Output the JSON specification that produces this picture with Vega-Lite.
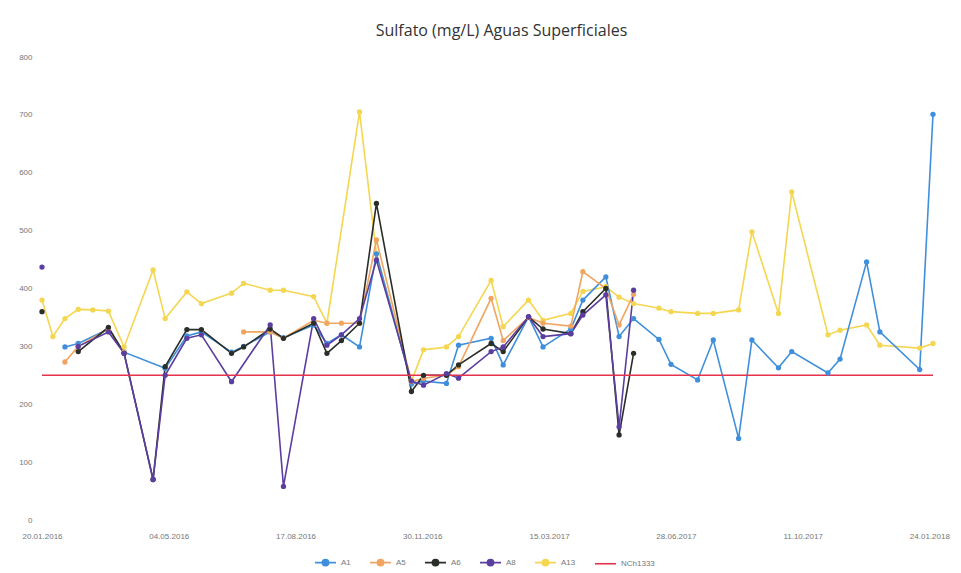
{
  "$schema": "https://vega.github.io/schema/vega-lite/v6.json",
  "width": 891,
  "height": 463,
  "autosize": {"type": "none"},
  "padding": {"left": 42, "top": 57, "right": 28, "bottom": 53},
  "background": "white",
  "config": {"view": {"stroke": null}, "font": "Liberation Sans"},
  "title": {"text": "Sulfato (mg/L) Aguas Superficiales", "font": "Open Sans", "fontSize": 16, "fontWeight": "normal", "color": "#333333", "offset": 14, "dx": 14},
  "data": {"values": [
    {"fecha": "2016-01-20", "serie": "A13", "valor": 380},
    {"fecha": "2016-01-29", "serie": "A13", "valor": 317},
    {"fecha": "2016-02-08", "serie": "A13", "valor": 348},
    {"fecha": "2016-02-19", "serie": "A13", "valor": 364},
    {"fecha": "2016-03-02", "serie": "A13", "valor": 363},
    {"fecha": "2016-03-15", "serie": "A13", "valor": 361},
    {"fecha": "2016-03-28", "serie": "A13", "valor": 299},
    {"fecha": "2016-04-21", "serie": "A13", "valor": 432},
    {"fecha": "2016-05-01", "serie": "A13", "valor": 348},
    {"fecha": "2016-05-19", "serie": "A13", "valor": 394},
    {"fecha": "2016-05-31", "serie": "A13", "valor": 374},
    {"fecha": "2016-06-25", "serie": "A13", "valor": 392},
    {"fecha": "2016-07-05", "serie": "A13", "valor": 409},
    {"fecha": "2016-07-27", "serie": "A13", "valor": 397},
    {"fecha": "2016-08-07", "serie": "A13", "valor": 397},
    {"fecha": "2016-09-01", "serie": "A13", "valor": 386},
    {"fecha": "2016-09-12", "serie": "A13", "valor": 340},
    {"fecha": "2016-10-09", "serie": "A13", "valor": 705},
    {"fecha": "2016-10-23", "serie": "A13", "valor": 460},
    {"fecha": "2016-11-21", "serie": "A13", "valor": 240},
    {"fecha": "2016-12-01", "serie": "A13", "valor": 294},
    {"fecha": "2016-12-20", "serie": "A13", "valor": 299},
    {"fecha": "2016-12-30", "serie": "A13", "valor": 317},
    {"fecha": "2017-01-26", "serie": "A13", "valor": 414},
    {"fecha": "2017-02-05", "serie": "A13", "valor": 334},
    {"fecha": "2017-02-26", "serie": "A13", "valor": 380},
    {"fecha": "2017-03-10", "serie": "A13", "valor": 345},
    {"fecha": "2017-04-02", "serie": "A13", "valor": 357},
    {"fecha": "2017-04-12", "serie": "A13", "valor": 395},
    {"fecha": "2017-05-01", "serie": "A13", "valor": 403},
    {"fecha": "2017-05-12", "serie": "A13", "valor": 385},
    {"fecha": "2017-05-24", "serie": "A13", "valor": 374},
    {"fecha": "2017-06-14", "serie": "A13", "valor": 366},
    {"fecha": "2017-06-24", "serie": "A13", "valor": 360},
    {"fecha": "2017-07-16", "serie": "A13", "valor": 357},
    {"fecha": "2017-07-29", "serie": "A13", "valor": 357},
    {"fecha": "2017-08-19", "serie": "A13", "valor": 363},
    {"fecha": "2017-08-30", "serie": "A13", "valor": 498},
    {"fecha": "2017-09-21", "serie": "A13", "valor": 357},
    {"fecha": "2017-10-02", "serie": "A13", "valor": 567},
    {"fecha": "2017-11-01", "serie": "A13", "valor": 320},
    {"fecha": "2017-11-11", "serie": "A13", "valor": 328},
    {"fecha": "2017-12-03", "serie": "A13", "valor": 337},
    {"fecha": "2017-12-14", "serie": "A13", "valor": 302},
    {"fecha": "2018-01-16", "serie": "A13", "valor": 297},
    {"fecha": "2018-01-27", "serie": "A13", "valor": 305},

    {"fecha": "2016-02-08", "serie": "A1", "valor": 299},
    {"fecha": "2016-02-19", "serie": "A1", "valor": 305},
    {"fecha": "2016-03-15", "serie": "A1", "valor": 330},
    {"fecha": "2016-03-28", "serie": "A1", "valor": 290},
    {"fecha": "2016-05-01", "serie": "A1", "valor": 262},
    {"fecha": "2016-05-19", "serie": "A1", "valor": 318},
    {"fecha": "2016-05-31", "serie": "A1", "valor": 325},
    {"fecha": "2016-06-25", "serie": "A1", "valor": 290},
    {"fecha": "2016-07-05", "serie": "A1", "valor": 300},
    {"fecha": "2016-07-27", "serie": "A1", "valor": 325},
    {"fecha": "2016-08-07", "serie": "A1", "valor": 315},
    {"fecha": "2016-09-01", "serie": "A1", "valor": 337},
    {"fecha": "2016-09-12", "serie": "A1", "valor": 305},
    {"fecha": "2016-09-24", "serie": "A1", "valor": 320},
    {"fecha": "2016-10-09", "serie": "A1", "valor": 299},
    {"fecha": "2016-10-23", "serie": "A1", "valor": 460},
    {"fecha": "2016-11-21", "serie": "A1", "valor": 235},
    {"fecha": "2016-12-01", "serie": "A1", "valor": 240},
    {"fecha": "2016-12-20", "serie": "A1", "valor": 236},
    {"fecha": "2016-12-30", "serie": "A1", "valor": 302},
    {"fecha": "2017-01-26", "serie": "A1", "valor": 314},
    {"fecha": "2017-02-05", "serie": "A1", "valor": 268},
    {"fecha": "2017-02-26", "serie": "A1", "valor": 351},
    {"fecha": "2017-03-10", "serie": "A1", "valor": 299},
    {"fecha": "2017-04-02", "serie": "A1", "valor": 330},
    {"fecha": "2017-04-12", "serie": "A1", "valor": 380},
    {"fecha": "2017-05-01", "serie": "A1", "valor": 420},
    {"fecha": "2017-05-12", "serie": "A1", "valor": 317},
    {"fecha": "2017-05-24", "serie": "A1", "valor": 348},
    {"fecha": "2017-06-14", "serie": "A1", "valor": 312},
    {"fecha": "2017-06-24", "serie": "A1", "valor": 269},
    {"fecha": "2017-07-16", "serie": "A1", "valor": 242},
    {"fecha": "2017-07-29", "serie": "A1", "valor": 311},
    {"fecha": "2017-08-19", "serie": "A1", "valor": 141},
    {"fecha": "2017-08-30", "serie": "A1", "valor": 311},
    {"fecha": "2017-09-21", "serie": "A1", "valor": 263},
    {"fecha": "2017-10-02", "serie": "A1", "valor": 291},
    {"fecha": "2017-11-01", "serie": "A1", "valor": 254},
    {"fecha": "2017-11-11", "serie": "A1", "valor": 278},
    {"fecha": "2017-12-03", "serie": "A1", "valor": 446},
    {"fecha": "2017-12-14", "serie": "A1", "valor": 325},
    {"fecha": "2018-01-16", "serie": "A1", "valor": 260},
    {"fecha": "2018-01-27", "serie": "A1", "valor": 701},

    {"fecha": "2016-02-08", "serie": "A5", "valor": 273},
    {"fecha": "2016-02-19", "serie": "A5", "valor": 300},
    {"fecha": "2016-03-15", "serie": "A5", "valor": 330},
    {"fecha": "2016-03-28", "serie": "A5", "valor": 290},
    {"fecha": "2016-04-21", "serie": "A5", "valor": null},
    {"fecha": "2016-07-05", "serie": "A5", "valor": 325},
    {"fecha": "2016-07-27", "serie": "A5", "valor": 325},
    {"fecha": "2016-08-07", "serie": "A5", "valor": 314},
    {"fecha": "2016-09-01", "serie": "A5", "valor": 345},
    {"fecha": "2016-09-12", "serie": "A5", "valor": 340},
    {"fecha": "2016-09-24", "serie": "A5", "valor": 340},
    {"fecha": "2016-10-09", "serie": "A5", "valor": 340},
    {"fecha": "2016-10-23", "serie": "A5", "valor": 484},
    {"fecha": "2016-11-21", "serie": "A5", "valor": 239},
    {"fecha": "2016-12-01", "serie": "A5", "valor": 245},
    {"fecha": "2016-12-20", "serie": "A5", "valor": 250},
    {"fecha": "2016-12-30", "serie": "A5", "valor": 265},
    {"fecha": "2017-01-26", "serie": "A5", "valor": 383},
    {"fecha": "2017-02-05", "serie": "A5", "valor": 310},
    {"fecha": "2017-02-26", "serie": "A5", "valor": 350},
    {"fecha": "2017-03-10", "serie": "A5", "valor": 340},
    {"fecha": "2017-04-02", "serie": "A5", "valor": 335},
    {"fecha": "2017-04-12", "serie": "A5", "valor": 429},
    {"fecha": "2017-05-01", "serie": "A5", "valor": 400},
    {"fecha": "2017-05-12", "serie": "A5", "valor": 337},
    {"fecha": "2017-05-24", "serie": "A5", "valor": 390},

    {"fecha": "2016-01-20", "serie": "A6", "valor": 360},
    {"fecha": "2016-01-29", "serie": "A6", "valor": null},
    {"fecha": "2016-02-19", "serie": "A6", "valor": 291},
    {"fecha": "2016-03-15", "serie": "A6", "valor": 333},
    {"fecha": "2016-03-28", "serie": "A6", "valor": 288},
    {"fecha": "2016-04-21", "serie": "A6", "valor": 70},
    {"fecha": "2016-05-01", "serie": "A6", "valor": 265},
    {"fecha": "2016-05-19", "serie": "A6", "valor": 329},
    {"fecha": "2016-05-31", "serie": "A6", "valor": 329},
    {"fecha": "2016-06-25", "serie": "A6", "valor": 288},
    {"fecha": "2016-07-05", "serie": "A6", "valor": 299},
    {"fecha": "2016-07-27", "serie": "A6", "valor": 330},
    {"fecha": "2016-08-07", "serie": "A6", "valor": 314},
    {"fecha": "2016-09-01", "serie": "A6", "valor": 340},
    {"fecha": "2016-09-12", "serie": "A6", "valor": 288},
    {"fecha": "2016-09-24", "serie": "A6", "valor": 310},
    {"fecha": "2016-10-09", "serie": "A6", "valor": 340},
    {"fecha": "2016-10-23", "serie": "A6", "valor": 547},
    {"fecha": "2016-11-21", "serie": "A6", "valor": 222},
    {"fecha": "2016-12-01", "serie": "A6", "valor": 250},
    {"fecha": "2016-12-20", "serie": "A6", "valor": 250},
    {"fecha": "2016-12-30", "serie": "A6", "valor": 268},
    {"fecha": "2017-01-26", "serie": "A6", "valor": 305},
    {"fecha": "2017-02-05", "serie": "A6", "valor": 291},
    {"fecha": "2017-02-26", "serie": "A6", "valor": 351},
    {"fecha": "2017-03-10", "serie": "A6", "valor": 330},
    {"fecha": "2017-04-02", "serie": "A6", "valor": 322},
    {"fecha": "2017-04-12", "serie": "A6", "valor": 360},
    {"fecha": "2017-05-01", "serie": "A6", "valor": 400},
    {"fecha": "2017-05-12", "serie": "A6", "valor": 147},
    {"fecha": "2017-05-24", "serie": "A6", "valor": 288},

    {"fecha": "2016-01-20", "serie": "A8", "valor": 437},
    {"fecha": "2016-01-29", "serie": "A8", "valor": null},
    {"fecha": "2016-02-19", "serie": "A8", "valor": 300},
    {"fecha": "2016-03-15", "serie": "A8", "valor": 325},
    {"fecha": "2016-03-28", "serie": "A8", "valor": 288},
    {"fecha": "2016-04-21", "serie": "A8", "valor": 70},
    {"fecha": "2016-05-01", "serie": "A8", "valor": 250},
    {"fecha": "2016-05-19", "serie": "A8", "valor": 314},
    {"fecha": "2016-05-31", "serie": "A8", "valor": 320},
    {"fecha": "2016-06-25", "serie": "A8", "valor": 239},
    {"fecha": "2016-07-27", "serie": "A8", "valor": 337},
    {"fecha": "2016-08-07", "serie": "A8", "valor": 58},
    {"fecha": "2016-09-01", "serie": "A8", "valor": 348},
    {"fecha": "2016-09-12", "serie": "A8", "valor": 302},
    {"fecha": "2016-09-24", "serie": "A8", "valor": 320},
    {"fecha": "2016-10-09", "serie": "A8", "valor": 348},
    {"fecha": "2016-10-23", "serie": "A8", "valor": 449},
    {"fecha": "2016-11-21", "serie": "A8", "valor": 240},
    {"fecha": "2016-12-01", "serie": "A8", "valor": 233},
    {"fecha": "2016-12-20", "serie": "A8", "valor": 253},
    {"fecha": "2016-12-30", "serie": "A8", "valor": 245},
    {"fecha": "2017-01-26", "serie": "A8", "valor": 291},
    {"fecha": "2017-02-05", "serie": "A8", "valor": 299},
    {"fecha": "2017-02-26", "serie": "A8", "valor": 351},
    {"fecha": "2017-03-10", "serie": "A8", "valor": 317},
    {"fecha": "2017-04-02", "serie": "A8", "valor": 322},
    {"fecha": "2017-04-12", "serie": "A8", "valor": 354},
    {"fecha": "2017-05-01", "serie": "A8", "valor": 389},
    {"fecha": "2017-05-12", "serie": "A8", "valor": 161},
    {"fecha": "2017-05-24", "serie": "A8", "valor": 397},

    {"fecha": "2016-01-20", "serie": "NCh1333", "valor": 250},
    {"fecha": "2018-01-27", "serie": "NCh1333", "valor": 250}
  ]},
  "encoding": {
    "x": {
      "field": "fecha", "type": "temporal",
      "scale": {"type": "utc", "domain": [{"year": 2016, "month": 1, "date": 20, "utc": true}, {"year": 2018, "month": 1, "date": 27, "utc": true}], "nice": false},
      "axis": {
        "title": null, "domain": false, "ticks": false, "grid": false,
        "labelExpr": "utcFormat(datum.value, '%d.%m.%Y')",
        "values": [
          {"year": 2016, "month": 1, "date": 20, "utc": true},
          {"year": 2016, "month": 5, "date": 4, "utc": true},
          {"year": 2016, "month": 8, "date": 17, "utc": true},
          {"year": 2016, "month": 11, "date": 30, "utc": true},
          {"year": 2017, "month": 3, "date": 15, "utc": true},
          {"year": 2017, "month": 6, "date": 28, "utc": true},
          {"year": 2017, "month": 10, "date": 11, "utc": true},
          {"year": 2018, "month": 1, "date": 24, "utc": true}
        ],
        "labelFontSize": 8, "labelColor": "#777777", "labelPadding": 12, "labelOverlap": false, "labelFlush": false
      }
    },
    "y": {
      "field": "valor", "type": "quantitative",
      "scale": {"domain": [0, 800], "nice": false},
      "axis": {"title": null, "domain": false, "ticks": false, "grid": false, "values": [0, 100, 200, 300, 400, 500, 600, 700, 800], "labelFontSize": 8, "labelColor": "#777777", "labelPadding": 10}
    },
    "color": {
      "field": "serie", "type": "nominal",
      "scale": {"domain": ["A1", "A5", "A6", "A8", "A13", "NCh1333"], "range": ["#3f8fdc", "#f0a562", "#2a2e28", "#5b3ea0", "#f5d651", "#e6334d"]},
      "legend": {
        "title": null, "orient": "none", "direction": "horizontal", "legendX": 272, "legendY": 494,
        "symbolType": "M-1,0H1M-0.3,0a0.3,0.3 0 1,0 0.6,0a0.3,0.3 0 1,0 -0.6,0",
        "symbolSize": 440, "symbolStrokeWidth": 1.6, "labelFontSize": 8, "labelColor": "#777777", "columnPadding": 15,
        "encode": {"symbols": {"update": {
          "fill": {"scale": "color", "field": "value"},
          "stroke": {"scale": "color", "field": "value"},
          "shape": {"signal": "datum.value === 'NCh1333' ? 'M-1,0H1' : 'M-1,0H1M-0.3,0a0.3,0.3 0 1,0 0.6,0a0.3,0.3 0 1,0 -0.6,0'"}
        }}}
      }
    }
  },
  "layer": [
    {"mark": {"type": "line", "strokeWidth": 1.6, "invalid": "break-paths-show-domains"}},
    {"transform": [{"filter": "datum.serie !== 'NCh1333' && datum.valor !== null"}], "mark": {"type": "point", "filled": true, "size": 28, "opacity": 1}}
  ]
}
